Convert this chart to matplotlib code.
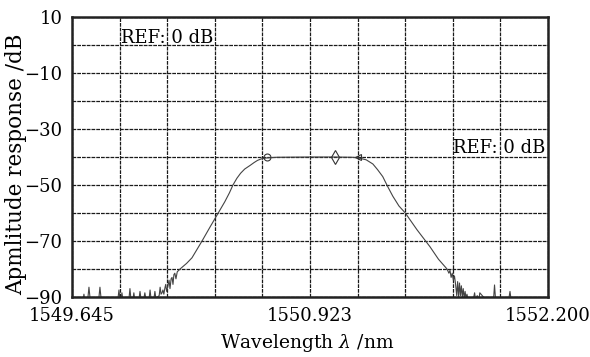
import matplotlib
matplotlib.use("Agg")
import matplotlib.pyplot as plt
import numpy as np

# ---- data ----
x_start, x_center, x_end = 1549.645, 1550.923, 1552.200
x_tick_labels = ["1549.645", "1550.923", "1552.200"]
y_tick_values = [10, -10, -30, -50, -70, -90]

# spectrum trace (wavelength nm, amplitude dB)
wavelength = [
    1549.645, 1549.700, 1549.706, 1549.709, 1549.712, 1549.730, 1549.736, 1549.742,
    1549.789, 1549.795, 1549.801, 1549.850, 1549.892, 1549.897, 1549.902, 1549.909,
    1549.913, 1549.917, 1549.951, 1549.956, 1549.961, 1549.973, 1549.977, 1549.981,
    1550.005, 1550.010, 1550.015, 1550.031, 1550.036, 1550.041, 1550.059, 1550.064,
    1550.069, 1550.085, 1550.090, 1550.095, 1550.113, 1550.118, 1550.123, 1550.128,
    1550.133, 1550.138, 1550.143, 1550.148, 1550.153, 1550.160, 1550.166, 1550.171,
    1550.177, 1550.182, 1550.187, 1550.192, 1550.197, 1550.203, 1550.210, 1550.225,
    1550.260, 1550.289, 1550.316, 1550.343, 1550.386, 1550.424, 1550.465, 1550.490,
    1550.509, 1550.530, 1550.550, 1550.572, 1550.601, 1550.622, 1550.641, 1550.660,
    1550.680, 1550.744, 1550.923, 1551.050, 1551.150, 1551.180, 1551.200, 1551.224,
    1551.260, 1551.285, 1551.313, 1551.339, 1551.367, 1551.400, 1551.434, 1551.497,
    1551.566, 1551.612, 1551.658,
    1551.668, 1551.674, 1551.680, 1551.686, 1551.692, 1551.698, 1551.704, 1551.710,
    1551.715, 1551.720, 1551.725, 1551.730, 1551.735, 1551.740, 1551.745, 1551.750,
    1551.755, 1551.760, 1551.765, 1551.770, 1551.780, 1551.800, 1551.806, 1551.810,
    1551.814, 1551.820, 1551.826, 1551.830, 1551.834, 1551.860, 1551.880, 1551.885,
    1551.890, 1551.908, 1551.913, 1551.918, 1551.990, 1551.996, 1552.001, 1552.006,
    1552.011, 1552.200,
]
amplitude_db = [
    -90.5, -90.5, -90.5, -89.0, -90.5, -90.5, -86.5, -90.5,
    -90.5, -86.5, -90.5, -90.5, -90.5, -87.5, -90.5, -90.5,
    -88.5, -90.5, -90.5, -87.0, -90.5, -90.5, -88.5, -90.5,
    -90.5, -88.0, -90.5, -90.5, -88.5, -90.5, -90.5, -87.5,
    -90.5, -90.5, -88.0, -90.5, -89.5, -86.5, -89.0, -88.5,
    -87.5, -89.0, -87.0, -85.5, -88.0, -86.0, -84.0, -87.0,
    -83.5, -83.0, -85.5, -82.0, -81.5, -83.5, -81.0, -80.0,
    -78.0, -76.0, -73.0, -70.0, -65.0, -60.7, -56.0, -52.8,
    -50.0, -47.6, -45.8, -44.3, -43.0, -42.0, -41.2, -40.7,
    -40.4, -40.1, -40.0, -40.0, -40.1, -40.3, -40.6, -41.0,
    -42.5, -44.5, -47.0, -50.5, -54.0, -57.5, -60.0, -66.0,
    -72.0, -76.5, -80.0,
    -81.5, -80.5, -83.0, -81.5, -84.0, -82.5, -85.5, -89.5,
    -84.5, -90.0, -85.0, -89.5, -86.0, -90.0, -87.0, -90.5,
    -88.0, -90.5, -89.0, -90.5, -90.5, -90.5, -88.5, -90.5,
    -90.5, -89.5, -90.5, -90.5, -88.5, -90.5, -90.5, -90.5,
    -90.5, -90.5, -85.7, -90.5, -90.5, -88.0, -90.5, -90.5,
    -90.5, -90.5,
]

# trace markers on the passband top
marker_wavelength = [1550.693, 1551.057, 1551.180]
marker_db = [-40.0, -40.0, -40.0]

ref_text = "REF: 0 dB"
x_label = r"Wavelength $\lambda$ /nm"
y_label = "Apmlitude response /dB"

# ---- drawing ----
plt.rcParams['font.family'] = ['DejaVu Serif']
plt.rcParams['mathtext.fontset'] = 'dejavuserif'

W, H = 590, 357
fig = plt.figure(figsize=(W / 100, H / 100), dpi=100)
ax = fig.add_axes([72 / W, 60 / H, 476 / W, 280 / H])

ax.plot(wavelength, amplitude_db, color='#444444', lw=0.8)
ax.plot(marker_wavelength[0], marker_db[0], marker='o', ms=5, mfc='none', mec='#333', mew=0.8)
ax.plot(marker_wavelength[1], marker_db[1], marker='d', ms=7, mfc='none', mec='#333', mew=0.8)
ax.plot(marker_wavelength[2], marker_db[2], marker='<', ms=5, mfc='none', mec='#333', mew=0.8)

ax.set_xlim(x_start, x_end)
ax.set_ylim(-90, 10)

xt = np.linspace(x_start, x_end, 11)
ax.set_xticks(xt)
xl = [''] * 11
xl[0], xl[5], xl[10] = x_tick_labels
ax.set_xticklabels(xl)

yt = np.arange(-90, 11, 10)
ax.set_yticks(yt)
ax.set_yticklabels([('\u2212%d' % abs(v) if v < 0 else '%d' % v) if v in y_tick_values else '' for v in yt])

ax.tick_params(length=0, labelsize=13, pad=7)
ax.grid(True, color='#1a1a1a', linestyle=(0, (3, 0.8)), lw=0.9)
for s in ax.spines.values():
    s.set_linewidth(1.8)
    s.set_color('#222222')

ax.text(x_start + 0.2555 * 1.02, 10 - 10 * 0.75, ref_text, fontsize=13, va='center', ha='left')
ax.text(x_end - 0.2555 * 0.06, -30 - 10 * 0.68, ref_text, fontsize=13, va='center', ha='right')

fig.text(307 / W, 1 - 343 / H, x_label, fontsize=13.5, ha='center', va='center')
fig.text(16 / W, 1 - 164 / H, y_label, fontsize=15.5, ha='center', va='center', rotation=90)

fig.savefig("out.png", dpi=100)
